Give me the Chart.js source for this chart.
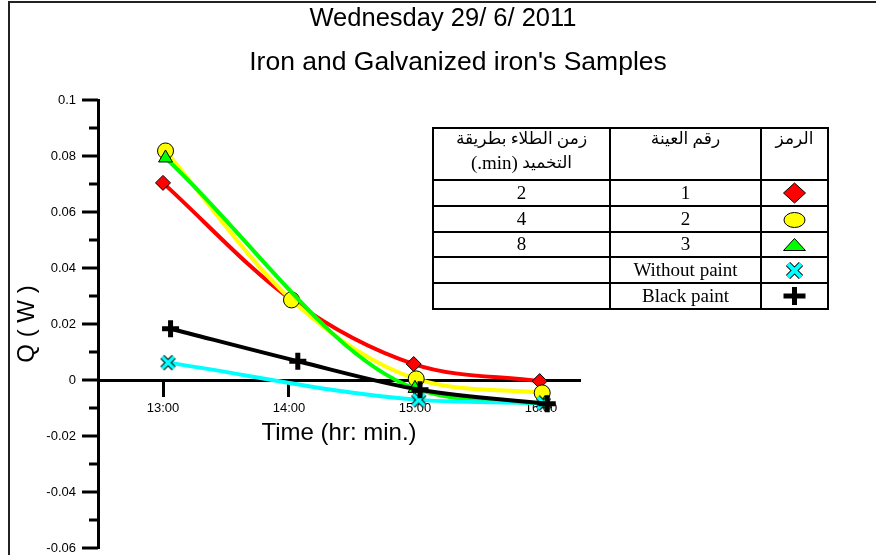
<!DOCTYPE html>
<html>
<head>
<meta charset="utf-8">
<script src="https://cdn.jsdelivr.net/npm/chart.js@4.4.1/dist/chart.umd.min.js"></script>
<style>
html,body{margin:0;padding:0;background:#fff;}
canvas{display:block;}
</style>
</head>
<body>
<canvas id="qChart" width="876" height="555"></canvas>
<script>
const titleLines = ['Wednesday 29/ 6/ 2011', "Iron and Galvanized iron's Samples"];
const xTitle = 'Time (hr: min.)';
const xTicks = [13, 14, 15, 16];
const xTickLabels = ['13:00', '14:00', '15:00', '16:00'];

// time in hours, Q in W
const sample1X = [13.0, 14.02, 14.99, 15.99];
const sample1Q = [0.0704, 0.0286, 0.0057, -0.0004];
const sample2X = [13.02, 14.02, 15.01, 16.01];
const sample2Q = [0.0818, 0.0286, 0.0004, -0.0046];
const sample3X = [13.02, 15.0, 16.03];
const sample3Q = [0.0793, -0.003, -0.0085];
const noPaintX = [13.04, 15.03, 16.02];
const noPaintQ = [0.0062, -0.0071, -0.0082];
const blackX = [13.06, 14.07, 15.04, 16.05];
const blackQ = [0.0183, 0.0067, -0.0035, -0.0085];

// legend table
const tableHead = ['زمن الطلاء بطريقة', 'التخميد', '(.min)', 'رقم العينة', 'الرمز'];
const tableTimes = ['2', '4', '8', '', ''];
const tableSamples = ['1', '2', '3', 'Without paint', 'Black paint'];

const sans = '"Liberation Sans", Arial, sans-serif';
Chart.defaults.font.family = sans;
Chart.defaults.color = '#000';

function pts(xs, ys) {
    return xs.map((x, i) => ({x: x, y: ys[i]}));
}

function xMark(size, lw) {
    const c = document.createElement('canvas');
    c.width = size; c.height = size;
    const g = c.getContext('2d');
    const m = lw / 2 + 1;
    g.beginPath();
    g.moveTo(m, m); g.lineTo(size - m, size - m);
    g.moveTo(size - m, m); g.lineTo(m, size - m);
    g.strokeStyle = '#000'; g.lineWidth = lw + 2; g.stroke();
    g.strokeStyle = '#00ffff'; g.lineWidth = lw; g.stroke();
    return c;
}

const xMarkSmall = xMark(17, 3.5);

const tablePlugin = {
    id: 'tablePlugin',
    afterLayout(chart) {
        // plot bottom sits 7px above the canvas edge
        const ca = chart.chartArea;
        const target = chart.height - 7;
        if (Math.abs(ca.bottom - target) > 0.5) {
            ca.bottom = target;
            ca.height = ca.bottom - ca.top;
            const y = chart.scales.y;
            y.bottom = target;
            y.height = target - y.top;
            y.configure();
        }
    },
    beforeDraw(chart) {
        const ctx = chart.ctx;
        ctx.save();
        ctx.fillStyle = '#fff';
        ctx.fillRect(0, 0, chart.width, chart.height);
        ctx.restore();
    },
    afterDraw(chart) {
        const ctx = chart.ctx;
        const yS = chart.scales.y;
        const axisX = chart.chartArea.left;
        ctx.save();
        // y ticks, long on labelled ones
        ctx.strokeStyle = '#000';
        ctx.lineWidth = 3;
        yS.ticks.forEach(t => {
            const py = Math.round(yS.getPixelForValue(t.value));
            const major = Math.round(t.value * 100) % 2 === 0;
            ctx.beginPath();
            ctx.moveTo(axisX - (major ? 16 : 9), py);
            ctx.lineTo(axisX, py);
            ctx.stroke();
        });

        // titles
        ctx.fillStyle = '#000';
        ctx.textAlign = 'center';
        ctx.textBaseline = 'middle';
        ctx.font = '25.5px ' + sans;
        ctx.fillText(titleLines[0], 443, 19);
        ctx.font = '26.5px ' + sans;
        ctx.fillText(titleLines[1], 458, 63);
        ctx.font = '24px ' + sans;
        ctx.fillText(xTitle, (chart.chartArea.left + chart.chartArea.right) / 2,
            yS.getPixelForValue(0) + 53);

        // frame
        ctx.lineWidth = 2;
        ctx.strokeStyle = '#222';
        ctx.beginPath();
        ctx.moveTo(9, chart.height);
        ctx.lineTo(9, 2);
        ctx.lineTo(chart.width, 2);
        ctx.stroke();

        // table
        const cols = [433, 610, 761, 828];
        const rows = [128, 180, 206, 232, 257, 283, 309];
        ctx.strokeStyle = '#000';
        ctx.lineWidth = 2;
        ctx.strokeRect(cols[0], rows[0], cols[3] - cols[0], rows[6] - rows[0]);
        ctx.beginPath();
        [cols[1], cols[2]].forEach(x => { ctx.moveTo(x, rows[0]); ctx.lineTo(x, rows[6]); });
        rows.slice(1, 6).forEach(y => { ctx.moveTo(cols[0], y); ctx.lineTo(cols[3], y); });
        ctx.stroke();

        const c1 = (cols[0] + cols[1]) / 2, c2 = (cols[1] + cols[2]) / 2, c3 = (cols[2] + cols[3]) / 2;
        ctx.font = '17px "Liberation Serif", "DejaVu Sans", serif';
        ctx.fillText(tableHead[0], c1, 140);
        ctx.fillText(tableHead[3], c2, 140);
        ctx.fillText(tableHead[4], c3, 140);
        // second header line: arabic word with (.min) on its left
        const wA = ctx.measureText(tableHead[1]).width;
        const wS = ctx.measureText(' ').width;
        ctx.font = '19px "Liberation Serif", "Times New Roman", serif';
        const wB = ctx.measureText(tableHead[2]).width;
        const start = c1 - (wA + wS + wB) / 2;
        ctx.textAlign = 'left';
        ctx.fillText(tableHead[2], start, 164);
        ctx.font = '17px "Liberation Serif", "DejaVu Sans", serif';
        ctx.fillText(tableHead[1], start + wB + wS, 164);

        ctx.textAlign = 'center';
        ctx.font = '19px "Liberation Serif", "Times New Roman", serif';
        for (let i = 0; i < 5; i++) {
            const cy = (rows[i + 1] + rows[i + 2]) / 2 + 1;
            ctx.fillText(tableTimes[i], c1, cy);
            ctx.fillText(tableSamples[i], c2, cy);
        }

        // markers
        ctx.lineWidth = 1;
        ctx.strokeStyle = '#000';
        let cy = (rows[1] + rows[2]) / 2;
        ctx.beginPath();
        ctx.moveTo(c3, cy - 10); ctx.lineTo(c3 + 11, cy); ctx.lineTo(c3, cy + 10); ctx.lineTo(c3 - 11, cy); ctx.closePath();
        ctx.fillStyle = '#ff0000'; ctx.fill(); ctx.stroke();
        cy = (rows[2] + rows[3]) / 2;
        ctx.beginPath();
        ctx.ellipse(c3, cy + 1, 10.5, 7.5, 0, 0, Math.PI * 2);
        ctx.fillStyle = '#ffff00'; ctx.fill(); ctx.stroke();
        cy = (rows[3] + rows[4]) / 2;
        ctx.beginPath();
        ctx.moveTo(c3, cy - 6); ctx.lineTo(c3 + 11, cy + 6); ctx.lineTo(c3 - 11, cy + 6); ctx.closePath();
        ctx.fillStyle = '#00ff00'; ctx.fill(); ctx.stroke();
        cy = (rows[4] + rows[5]) / 2;
        ctx.drawImage(xMark(19, 4), c3 - 9.5, cy - 9);
        cy = (rows[5] + rows[6]) / 2;
        ctx.fillStyle = '#000';
        ctx.fillRect(c3 - 11, cy - 2.5, 22, 5);
        ctx.fillRect(c3 - 2.5, cy - 9, 5, 18);
        ctx.restore();
    }
};

const lineBase = {
    borderWidth: 4,
    cubicInterpolationMode: 'monotone',
    pointBorderColor: '#000',
    pointBorderWidth: 1,
    fill: false
};

new Chart(document.getElementById('qChart'), {
    type: 'line',
    data: {
        datasets: [
            Object.assign({}, lineBase, {label: '1', data: pts(sample1X, sample1Q), borderColor: '#ff0000',
                pointStyle: 'rectRot', pointRadius: 7.5, pointBackgroundColor: '#ff0000', order: 5}),
            Object.assign({}, lineBase, {label: '2', data: pts(sample2X, sample2Q), borderColor: '#ffff00',
                pointStyle: 'circle', pointRadius: 8, pointBackgroundColor: '#ffff00', order: 4}),
            Object.assign({}, lineBase, {label: '3', data: pts(sample3X, sample3Q), borderColor: '#00ff00',
                pointStyle: 'triangle', pointRadius: 8, pointBackgroundColor: '#00ff00', order: 3}),
            Object.assign({}, lineBase, {label: 'Without paint', data: pts(noPaintX, noPaintQ), borderColor: '#00ffff',
                pointStyle: xMarkSmall, pointRadius: 8, order: 2}),
            Object.assign({}, lineBase, {label: 'Black paint', data: pts(blackX, blackQ), borderColor: '#000',
                pointStyle: 'cross', pointRadius: 8.5, pointBorderWidth: 5, order: 1})
        ]
    },
    options: {
        responsive: false,
        animation: false,
        layout: {padding: {left: 10, right: 0, top: 100, bottom: 7}},
        plugins: {
            legend: {display: false},
            tooltip: {enabled: false}
        },
        scales: {
            x: {
                type: 'linear',
                position: {y: 0},
                min: 12.484,
                max: 16.31,
                afterBuildTicks: s => { s.ticks = xTicks.map(v => ({value: v})); },
                ticks: {
                    autoSkip: false, maxRotation: 0, padding: 6,
                    font: {size: 13},
                    callback: (v, i) => xTickLabels[i]
                },
                grid: {drawOnChartArea: false, drawTicks: true, tickLength: 15, tickWidth: 3, tickColor: '#000'},
                border: {display: true, color: '#000', width: 3}
            },
            y: {
                type: 'linear',
                position: 'left',
                min: -0.06,
                max: 0.1,
                afterFit: s => { s.width = 88; },
                ticks: {
                    stepSize: 0.01, autoSkip: false, padding: 0,
                    font: {size: 13},
                    callback: v => {
                        const k = Math.round(v * 100);
                        return k % 2 === 0 ? String(k / 100) : '';
                    }
                },
                // invisible tick marks only push the labels off the axis
                grid: {drawOnChartArea: false, drawTicks: true, tickLength: 22, tickColor: 'rgba(0,0,0,0)'},
                border: {display: true, color: '#000', width: 3},
                title: {display: true, text: 'Q ( W )', color: '#000',
                    font: {size: 24, lineHeight: 1.2}, padding: {top: 3, bottom: 0}}
            },
            // empty axis that keeps room for the legend table on the right
            yRoom: {
                type: 'linear',
                position: 'right',
                afterFit: s => { s.width = 296; },
                ticks: {display: false},
                grid: {display: false},
                border: {display: false}
            }
        }
    },
    plugins: [tablePlugin]
});
</script>
</body>
</html>
